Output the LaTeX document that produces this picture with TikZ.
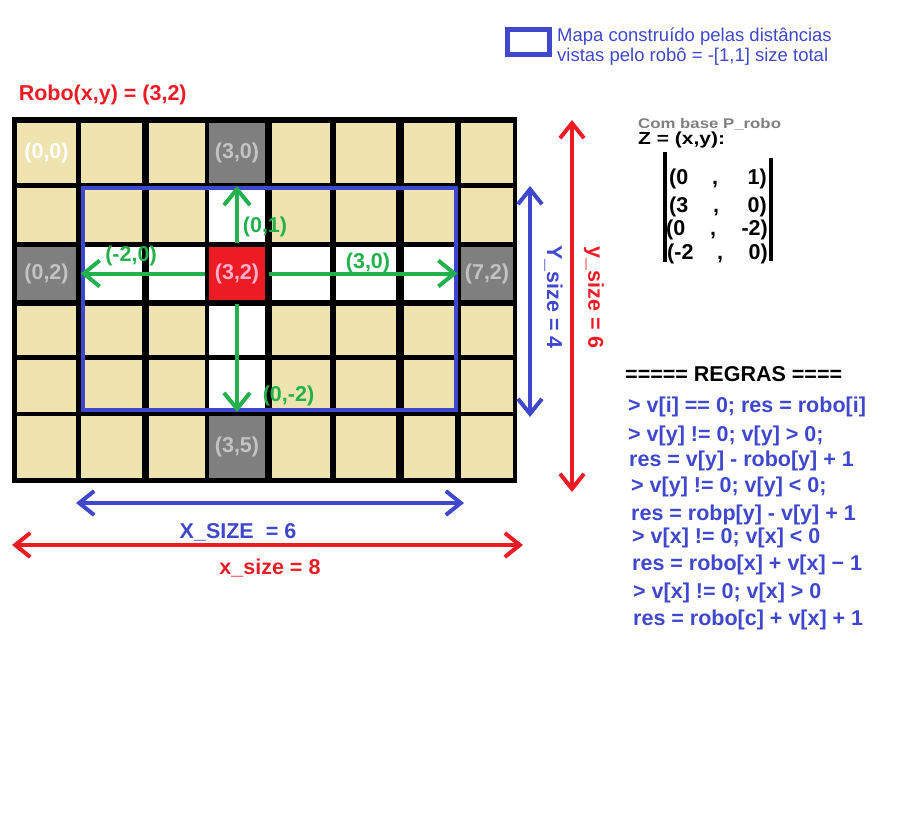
\documentclass[tikz,border=0pt]{standalone}
\usepackage{fontspec}
\setmainfont{Liberation Sans}
\newfontfamily\widefont{Liberation Sans}[FakeStretch=1.2]
\usetikzlibrary{arrows.meta}
\definecolor{celltan}{HTML}{EFE4B0}
\definecolor{wallgray}{HTML}{7F7F7F}
\definecolor{labelgray}{HTML}{C3C3C3}
\definecolor{robored}{HTML}{ED1C24}
\definecolor{labelpink}{HTML}{FFAEC9}
\definecolor{pathgreen}{HTML}{22B14C}
\definecolor{mapblue}{HTML}{3F48CC}
\tikzset{
  lbl/.style={font=\bfseries\fontsize{21.5}{24}\selectfont, inner sep=0pt},
  wall/.style={lbl, fill=wallgray, text=labelgray},
  ray/.style={draw=pathgreen, line width=4pt, -{Straight Barb[length=16pt,width=26pt]}},
  dimen/.style={line width=4pt, {Straight Barb[length=15pt,width=24pt]}-{Straight Barb[length=15pt,width=24pt]}},
  rule/.style={lbl, text=mapblue, anchor=base west},
}
\begin{document}
\begin{tikzpicture}[x=1pt,y=-1pt]
\useasboundingbox (0,0) rectangle (903,838);
% grid
\fill (12,117) rectangle (517,483);
\foreach \xa/\xb in {17/76,81/142,149/204.5,209/265,272/330,336/396,404/455,461/513}
  \foreach \ya/\yb in {123/183,188/242,247/300,306/355,360/412,416/478}
    \fill[celltan] (\xa,\ya) rectangle (\xb,\yb);
% free cells
\foreach \xa/\xb/\ya/\yb in {81/142/247/300,149/204.5/247/300,272/330/247/300,336/396/247/300,404/455/247/300,209/265/188/242,209/265/306/355,209/265/360/412}
  \fill[white] (\xa,\ya) rectangle (\xb,\yb);
\node[lbl, text=white] (c00) at (46.5,153) {(0,0)};
\node[wall, minimum width=56pt, minimum height=60pt] (c30) at (237,153) {(3,0)};
\node[wall, minimum width=59pt, minimum height=53pt] (c02) at (46.5,273.5) {(0,2)};
\node[wall, minimum width=52pt, minimum height=53pt] (c72) at (487,273.5) {(7,2)};
\node[wall, minimum width=56pt, minimum height=62pt] (c35) at (237,447) {(3,5)};
\node[lbl, fill=robored, text=labelpink, minimum width=56pt, minimum height=53pt, outer sep=4pt] (robo) at (237,273.5) {(3,2)};
% map seen by the robot
\draw[mapblue, line width=4pt] (82.5,188) rectangle (455.5,410);
\coordinate (upend) at (237,186);
\coordinate (leftend) at (80.5,273.5);
\coordinate (rightend) at (457.5,273.5);
\coordinate (downend) at (237,412);
\draw[ray] (robo) -- (upend);
\draw[ray] (robo) -- (leftend);
\draw[ray] (robo) -- (rightend);
\draw[ray] (robo) -- (downend);
\node[lbl, text=pathgreen] (d01) at (265,227) {(0,1)};
\node[lbl, text=pathgreen] (dm20) at (131,256) {(-2,0)};
\node[lbl, text=pathgreen] (d30) at (368,263) {(3,0)};
\node[lbl, text=pathgreen] (d0m2) at (288.5,396) {(0,-2)};
\node[lbl, text=robored, anchor=base west] (title) at (18.6,100.7) {Robo(x,y) = (3,2)};
% sizes
\coordinate (xa) at (76,503);
\coordinate (xb) at (464,503);
\draw[dimen, mapblue] (xa) -- (xb);
\node[lbl, text=mapblue, anchor=base] (xsize) at (238,538.5) {X\_SIZE\ \ = 6};
\coordinate (xc) at (12,545);
\coordinate (xd) at (523,545);
\draw[dimen, robored] (xc) -- (xd);
\node[lbl, text=robored, anchor=base] (xtotal) at (270,574.5) {x\_size = 8};
\coordinate (ya) at (530,186);
\coordinate (yb) at (530,417);
\draw[dimen, mapblue] (ya) -- (yb);
\node[lbl, text=mapblue, rotate=-90] (ysize) at (553.5,297) {Y\_size = 4};
\coordinate (yc) at (572,120);
\coordinate (yd) at (572,492);
\draw[dimen, robored] (yc) -- (yd);
\node[lbl, text=robored, rotate=-90] (ytotal) at (594,297.5) {y\_size = 6};
% legend
\node[draw=mapblue, line width=5pt, minimum width=42pt, minimum height=25pt, inner sep=0pt] (legbox) at (528.5,42) {};
\node[anchor=base west, text=mapblue, font=\fontsize{18.5}{20}\selectfont, inner sep=0pt] (leg1) at (557,41.7) {Mapa construído pelas distâncias};
\node[anchor=base west, text=mapblue, font=\fontsize{18.5}{20}\selectfont, inner sep=0pt] (leg2) at (557,61) {vistas pelo robô = -[1,1] size total};
% Z
\node[lbl, anchor=base west, text=wallgray, font=\widefont\bfseries\fontsize{14}{16}\selectfont] (pbase) at (638,128) {Com base P\_robo};
\node[lbl, anchor=base west, font=\widefont\bfseries\fontsize{17.5}{19}\selectfont] (zet) at (638,144.3) {Z = (x,y):};
\draw[line width=4pt] (665,152) -- (665,262);
\draw[line width=4pt] (771,158) -- (771,261);
\foreach \l/\r/\lx/\cx/\rx/\yy [count=\k] in {0/1/669/715/767/184, 3/0/669/716/767/212, 0/-2/666/713/768/235, -2/0/667/720/768/259} {
  \node[lbl, anchor=base west] (zl\k) at (\lx,\yy) {(\l};
  \node[lbl, anchor=base] (zc\k) at (\cx,\yy) {,};
  \node[lbl, anchor=base east] (zr\k) at (\rx,\yy) {\r)};
}
% rules
\node[lbl, anchor=base west] (regras) at (625,381) {===== REGRAS ====};
\node[rule] (r1) at (628,412.3) {> v[i] == 0; res = robo[i]};
\node[rule] (r2) at (628,441) {> v[y] != 0; v[y] > 0;};
\node[rule] (r3) at (629,466.7) {res = v[y] - robo[y] + 1};
\node[rule] (r4) at (631,492) {> v[y] != 0; v[y] < 0;};
\node[rule] (r5) at (631,520) {res = robp[y] - v[y] + 1};
\node[rule] (r6) at (632,543) {> v[x] != 0; v[x] < 0};
\node[rule] (r7) at (632,570) {res = robo[x] + v[x] − 1};
\node[rule] (r8) at (633,598) {> v[x] != 0; v[x] > 0};
\node[rule] (r9) at (633,625) {res = robo[c] + v[x] + 1};
\end{tikzpicture}
\end{document}
